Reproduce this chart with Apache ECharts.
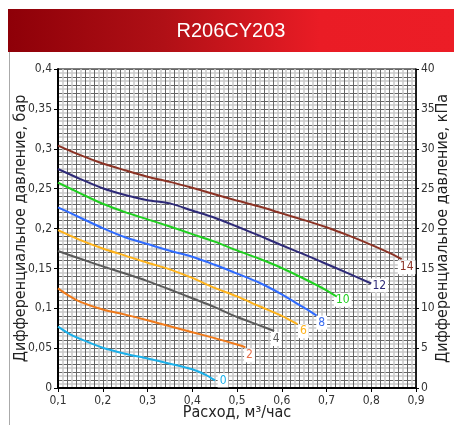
<!DOCTYPE html>
<html lang="ru">
<head>
    <meta charset="UTF-8">
    <script type="text/javascript" src="https://cdn.jsdelivr.net/npm/echarts@6/dist/echarts.min.js"></script>
    <title>R206CY203</title>
    <style type="text/css">
        html, body { margin: 0; padding: 0; background: #fff; }
        #chart { width: 454px; height: 425px; }
    </style>
</head>
<body>
    <div id="chart"></div>
    <script type="text/javascript">
        // кривые по положению клапана, [расход м3/ч, перепад бар]
        let curve14 = [[0.1, 0.304], [0.15, 0.292], [0.2, 0.2815], [0.25, 0.273], [0.3, 0.265], [0.35, 0.2585], [0.4, 0.251], [0.45, 0.243], [0.5, 0.235], [0.55, 0.2275], [0.6, 0.219], [0.65, 0.2105], [0.7, 0.2015], [0.75, 0.191], [0.8, 0.1795], [0.85, 0.167], [0.868, 0.1615]]
        let curve12 = [[0.1, 0.2746], [0.15, 0.262], [0.2, 0.2505], [0.25, 0.242], [0.3, 0.2355], [0.35, 0.2315], [0.4, 0.2225], [0.45, 0.2135], [0.5, 0.2025], [0.55, 0.191], [0.6, 0.179], [0.65, 0.1675], [0.7, 0.1555], [0.75, 0.1435], [0.8, 0.131]]
        let curve10 = [[0.1, 0.2575], [0.15, 0.244], [0.2, 0.231], [0.25, 0.2205], [0.3, 0.2115], [0.35, 0.2025], [0.4, 0.193], [0.45, 0.1835], [0.5, 0.1725], [0.55, 0.162], [0.6, 0.1505], [0.65, 0.137], [0.7, 0.1225], [0.723, 0.1145]]
        let curve8 = [[0.1, 0.2266], [0.15, 0.2135], [0.2, 0.2005], [0.25, 0.189], [0.3, 0.1805], [0.35, 0.172], [0.4, 0.1645], [0.45, 0.1545], [0.5, 0.1435], [0.55, 0.132], [0.6, 0.1175], [0.64, 0.104], [0.665, 0.0955], [0.678, 0.0907]]
        let curve6 = [[0.1, 0.198], [0.15, 0.1855], [0.2, 0.175], [0.25, 0.166], [0.3, 0.157], [0.35, 0.1488], [0.4, 0.138], [0.45, 0.1255], [0.5, 0.1148], [0.55, 0.1025], [0.6, 0.0905], [0.635, 0.08]]
        let curve4 = [[0.1, 0.1718], [0.15, 0.162], [0.2, 0.1525], [0.25, 0.1435], [0.3, 0.134], [0.35, 0.1235], [0.4, 0.1125], [0.45, 0.1015], [0.5, 0.089], [0.55, 0.0785], [0.583, 0.0715]]
        let curve2 = [[0.1, 0.125], [0.125, 0.1155], [0.15, 0.108], [0.2, 0.0985], [0.25, 0.092], [0.3, 0.085], [0.35, 0.0775], [0.4, 0.07], [0.45, 0.0625], [0.5, 0.0545], [0.519, 0.051]]
        let curve0 = [[0.1, 0.0769], [0.125, 0.068], [0.15, 0.0615], [0.2, 0.0505], [0.25, 0.043], [0.3, 0.037], [0.35, 0.0305], [0.4, 0.0235], [0.43, 0.0165], [0.451, 0.0095]]

        let curves = [curve14, curve12, curve10, curve8, curve6, curve4, curve2, curve0]
        let names = ['14', '12', '10', '8', '6', '4', '2', '0']
        let colors = ['#8b3224', '#2e2a78', '#1fd01f', '#2f6bff', '#ffb31a', '#5a5a5a', '#f07a1a', '#1cb0ea']
        let labelColors = ['#8b3224', '#2e2a78', '#1fd01f', '#3a6cf0', '#ffb31a', '#5a5a5a', '#e8704a', '#1cb0ea']
        let labelOffsets = [[5, 8], [8, 2], [6, 3], [5, 7], [6, 7], [2, 8], [4, 8], [8, 0]]

        let FONT = "'Liberation Sans Narrow', 'DejaVu Sans Condensed', sans-serif"

        function fmt(v) {
            return String(+v.toFixed(3)).replace('.', ',')
        }

        // вспомогательные оси только для сетки
        function gridAxis(kind, min, max, step, color, width) {
            return {
                type: 'value', min: min, max: max, interval: step,
                position: kind == 'x' ? 'bottom' : 'left',
                axisLine: { show: false }, axisTick: { show: false }, axisLabel: { show: false },
                splitLine: { show: true, lineStyle: { color: color, width: width } }
            }
        }

        var myChart = echarts.init(document.getElementById('chart'))

        let series = curves.map((c, i) => ({
            name: names[i],
            type: 'line',
            data: c,
            smooth: 0.3,
            showSymbol: false,
            z: 10,
            lineStyle: { color: colors[i], width: 2 },
            markPoint: {
                symbol: 'circle',
                symbolSize: 1,
                itemStyle: { color: 'rgba(0,0,0,0)' },
                label: {
                    show: true, position: 'inside', offset: labelOffsets[i],
                    formatter: names[i], color: labelColors[i],
                    fontFamily: FONT, fontSize: 12,
                    backgroundColor: '#fff', padding: [1, 2]
                },
                data: [{ coord: c[c.length - 1] }]
            }
        }))

        var option = {
            animation: false,
            grid: { left: 58, right: 38, top: 69, bottom: 37, outerBoundsMode: 'none', containLabel: false, show: true, borderColor: '#000', borderWidth: 1 },
            graphic: [
                {
                    type: 'rect', shape: { x: 8, y: 9, width: 446, height: 43 },
                    style: {
                        fill: new echarts.graphic.LinearGradient(0, 0, 1, 0, [
                            { offset: 0, color: '#8e0008' },
                            { offset: 0.35, color: '#b01016' },
                            { offset: 0.7, color: '#ea1c25' },
                            { offset: 1, color: '#ec1d26' }
                        ])
                    }
                },
                {
                    type: 'text', x: 231, y: 31,
                    style: { text: 'R206CY203', fill: '#fff', font: "20px 'Liberation Sans', Arial, sans-serif", textAlign: 'center', textVerticalAlign: 'middle' }
                },
                {
                    type: 'line', shape: { x1: 9.5, y1: 52, x2: 9.5, y2: 425 },
                    style: { stroke: '#aaa', lineWidth: 1 }
                }
            ],
            xAxis: [
                {
                    type: 'value', min: 0.1, max: 0.9, interval: 0.1,
                    name: 'Расход, м³/час', nameLocation: 'middle', nameGap: 17, nameMoveOverlap: false,
                    nameTextStyle: { fontFamily: FONT, fontSize: 16, color: '#222' },
                    axisLine: { lineStyle: { color: '#000', width: 2 } },
                    axisTick: { length: 4, lineStyle: { color: '#000' } },
                    axisLabel: { formatter: fmt, fontFamily: FONT, fontSize: 12, color: '#333', margin: 7 },
                    splitLine: { show: false }, z: 5
                },
                gridAxis('x', 0.1, 0.9, 0.01, ['rgba(0,0,0,0)', '#c8c8c8'], 1.5),
                gridAxis('x', 0.1, 0.9, 0.02, '#666', 1)
            ],
            yAxis: [
                {
                    type: 'value', min: 0, max: 0.4, interval: 0.05, position: 'left',
                    name: 'Дифференциальное давление, бар', nameLocation: 'middle', nameGap: 29, nameRotate: 90, nameMoveOverlap: false,
                    nameTextStyle: { fontFamily: FONT, fontSize: 16, color: '#222' },
                    axisLine: { show: true, lineStyle: { color: '#000', width: 2 } },
                    axisTick: { show: true, length: 4, lineStyle: { color: '#000' } },
                    axisLabel: { formatter: fmt, fontFamily: FONT, fontSize: 12, color: '#333', margin: 6 },
                    splitLine: { show: false }, z: 5
                },
                {
                    type: 'value', min: 0, max: 40, interval: 5, position: 'right',
                    name: 'Дифференциальное давление, кПа', nameLocation: 'middle', nameGap: 19, nameRotate: 90, nameMoveOverlap: false,
                    nameTextStyle: { fontFamily: FONT, fontSize: 16, color: '#222' },
                    axisLine: { show: true, lineStyle: { color: '#000', width: 1.5 } },
                    axisTick: { show: true, length: 3, lineStyle: { color: '#000' } },
                    axisLabel: { fontFamily: FONT, fontSize: 12, color: '#333', margin: 5 },
                    splitLine: { show: false }, z: 5
                },
                gridAxis('y', 0, 0.4, 0.005, ['rgba(0,0,0,0)', '#c8c8c8'], 1.5),
                gridAxis('y', 0, 0.4, 0.01, '#666', 1)
            ],
            series: series
        }

        option && myChart.setOption(option)
    </script>
</body>
</html>
